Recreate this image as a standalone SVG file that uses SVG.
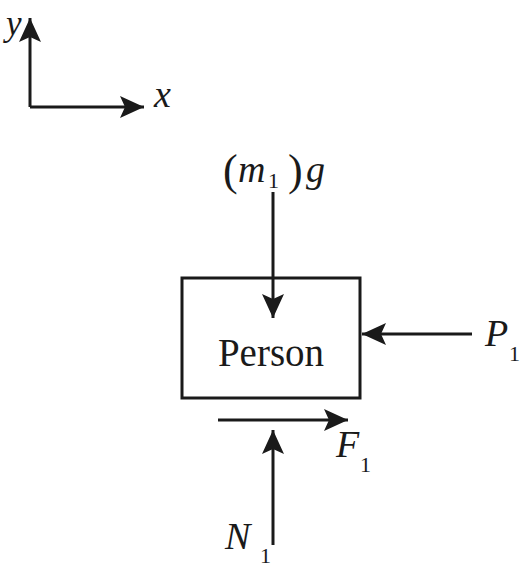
<svg xmlns="http://www.w3.org/2000/svg" width="523" height="571" viewBox="0 0 523 571" font-family="Liberation Serif">
<style>
.ln{stroke:#1a1a1a;stroke-width:3;fill:none}
text{fill:#1a1a1a;font-family:'Liberation Serif','Times New Roman',serif}
.v{font-style:italic;font-size:38px}
.s{font-size:22px}
.t{font-size:39px}
.p{font-size:44px}
</style>
<defs>
<marker id="ah" markerWidth="24" markerHeight="22" refX="24" refY="11" orient="auto" markerUnits="userSpaceOnUse">
<path d="M0,0 L24,11 L0,22 L5,11 Z" fill="#1a1a1a"/>
</marker>
</defs>
<rect width="523" height="571" fill="#fff"/>
<g id="axes">
<path class="ln" d="M30,107 V18" marker-end="url(#ah)"/>
<path class="ln" d="M30,107 H144" marker-end="url(#ah)"/>
<text class="v" x="6" y="35" style="font-size:35px">y</text>
<text class="v" x="154" y="107">x</text>
</g>
<g id="person">
<rect x="182" y="278" width="178" height="120" fill="none" stroke="#1a1a1a" stroke-width="3"/>
<text class="t" x="271" y="366" text-anchor="middle">Person</text>
</g>
<g id="connectors">
<path class="ln" d="M273,192 V318" marker-end="url(#ah)"/>
<path class="ln" d="M472,334 H362" marker-end="url(#ah)"/>
<path class="ln" d="M218,420 H348" marker-end="url(#ah)"/>
<path class="ln" d="M273,545 V430" marker-end="url(#ah)"/>
</g>
<g id="label-mg">
<text class="p" x="223" y="185">(</text>
<text class="v" x="238" y="182">m</text>
<text class="s" x="268" y="188">1</text>
<text class="p" x="288" y="185">)</text>
<text class="v" x="306" y="182">g</text>
</g>
<g id="label-P1">
<text class="v" x="485" y="346">P</text>
<text class="s" x="509" y="361">1</text>
</g>
<g id="label-F1">
<text class="v" x="336" y="457">F</text>
<text class="s" x="360" y="472">1</text>
</g>
<g id="label-N1">
<text class="v" x="225" y="549">N</text>
<text class="s" x="260" y="563">1</text>
</g>
</svg>
